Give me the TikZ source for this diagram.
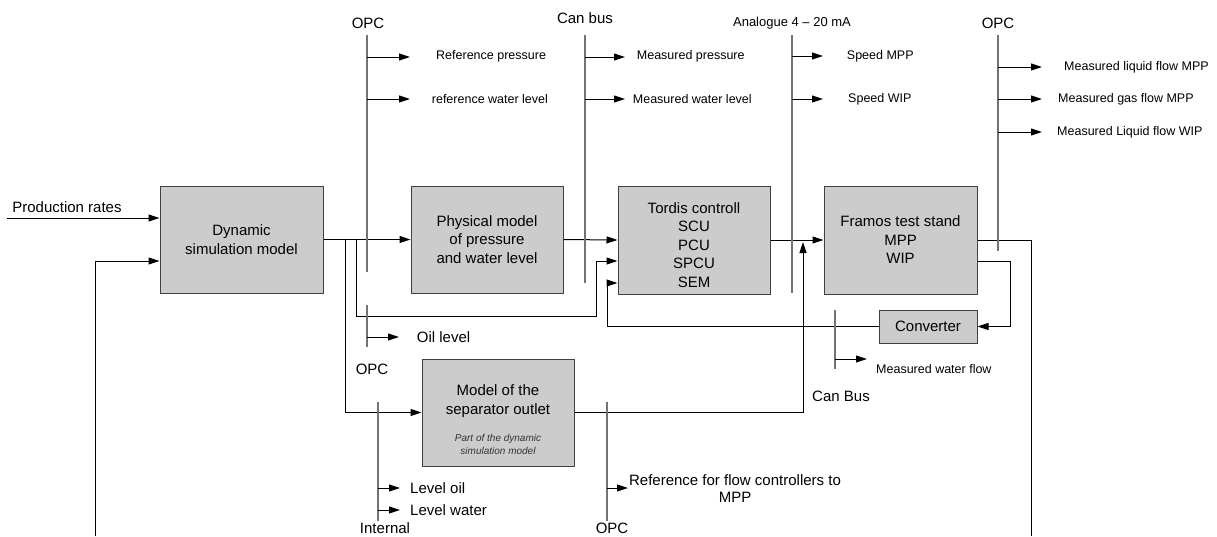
\documentclass[tikz,border=0pt]{standalone}
\usepackage{fontspec}
\setmainfont{Liberation Sans}
\usetikzlibrary{arrows.meta}
\tikzset{
 box/.style={draw=black!75, fill=black!20, line width=1pt, inner sep=0pt, align=center, font=\fontsize{15}{18.5}\selectfont},
 conn/.style={line width=1pt, draw=black},
 arr/.style={conn, -{Triangle[length=11pt,width=7pt]}},
 bus/.style={line width=1.1pt, draw=black!55},
 lbl/.style={inner sep=0pt, font=\fontsize{15}{18}\selectfont},
 slbl/.style={inner sep=0pt, font=\fontsize{12.5}{15}\selectfont},
}
\begin{document}
\begin{tikzpicture}[x=1pt,y=-1pt]
\fill[white] (0,0) rectangle (1217,536);
\useasboundingbox (0,0) rectangle (1217,536);

% boxes
\node[box, minimum width=163pt, minimum height=107pt] (dyn) at (241.5,239.5) {Dynamic\\simulation model};
\node[box, minimum width=152pt, minimum height=107pt] (phys) at (487,239.5) {Physical model\\of pressure\\and water level};
\node[box, minimum width=152pt, minimum height=108pt] (tor) at (694,240) {};
\node[lbl, align=center, font=\fontsize{15}{18.5}\selectfont] (tortxt) at (694,245) {Tordis controll\\SCU\\PCU\\SPCU\\SEM};
\node[box, minimum width=153pt, minimum height=108pt] (fr) at (900.5,240) {Framos test stand\\MPP\\WIP};
\node[box, minimum width=98pt, minimum height=33pt] (conv) at (928,326.5) {Converter};
\node[box, minimum width=152pt, minimum height=107pt] (sep) at (498,412.5) {};
\node[lbl, align=center, font=\fontsize{15}{19}\selectfont] (septxt) at (498,401.5) {Model of the\\separator outlet};
\node[inner sep=0pt, align=center, text=black!80, font=\fontsize{10}{13}\selectfont\itshape] (sepsub) at (498,444.5) {Part of the dynamic\\simulation model};

% production rates
\coordinate (prodin) at (7,218);
\draw[arr] (prodin) -- (prodin -| dyn.west);
\node[lbl] (prodlbl) at (67,207) {Production rates};

% feedback loop
\coordinate (fbR) at (1031,536);
\coordinate (fbL) at (95,536);
\coordinate (fbin) at (160,261);
\draw[conn] (fr.east) -| (fbR);
\draw[arr] (fbL) |- (dyn.west |- fbin);

% main flow
\draw[arr] (dyn.east) -- (phys.west);
\coordinate (b1) at (345.7,239.5);
\coordinate (b2) at (356,239.5);
\draw[arr] (b1) |- (sep.west);
\coordinate (loopA) at (356,316);
\coordinate (loopB) at (596,261);
\draw[arr] (b2) -- (loopA) -| (loopB) -- (tor.west |- loopB);
\draw[arr] (phys.east) -- (tor.west);
\draw[arr] (tor.east) -- (fr.west);
\coordinate (canupend) at (803,242);
\draw[arr] (sep.east) -| (canupend);
\coordinate (convloop) at (1010,261);
\draw[arr] (fr.east |- convloop) -- (convloop) |- (conv.east);
\coordinate (convback) at (607,283);
\draw[arr] (conv.west) -| (convback) -- (tor.west |- convback);

% OPC bus (left top)
\coordinate (opcA1) at (367,35);
\coordinate (opcA2) at (367,272);
\draw[bus] (opcA1) -- (opcA2);
\node[lbl] (opcAlbl) at (368,23) {OPC};
\coordinate (rp) at (410,57);
\coordinate (rwl) at (410,99);
\draw[arr] (opcA1 |- rp) -- (rp);
\draw[arr] (opcA1 |- rwl) -- (rwl);
\node[slbl, anchor=west] (rplbl) at (436,56) {Reference pressure};
\node[slbl, anchor=west] (rwllbl) at (431.7,99) {reference water level};

% Can bus
\coordinate (can1) at (585,35);
\coordinate (can2) at (585,283);
\draw[bus] (can1) -- (can2);
\node[lbl] (canlbl) at (585,18) {Can bus};
\coordinate (mp) at (625,57);
\coordinate (mwl) at (625,99);
\draw[arr] (can1 |- mp) -- (mp);
\draw[arr] (can1 |- mwl) -- (mwl);
\node[slbl, anchor=west] (mplbl) at (636.7,56) {Measured pressure};
\node[slbl, anchor=west] (mwllbl) at (632.7,99) {Measured water level};

% Analogue
\coordinate (an1) at (792,35);
\coordinate (an2) at (792,293);
\draw[bus] (an1) -- (an2);
\node[inner sep=0pt, font=\fontsize{13}{15}\selectfont] (anlbl) at (792,23) {Analogue 4 – 20 mA};
\coordinate (smpp) at (823,56);
\coordinate (swip) at (823,99);
\draw[arr] (an1 |- smpp) -- (smpp);
\draw[arr] (an1 |- swip) -- (swip);
\node[slbl, anchor=west] (smpplbl) at (846.7,56) {Speed MPP};
\node[slbl, anchor=west] (swiplbl) at (848,99) {Speed WIP};

% OPC right
\coordinate (opcB1) at (998,35);
\coordinate (opcB2) at (998,251);
\draw[bus] (opcB1) -- (opcB2);
\node[lbl] (opcBlbl) at (998,23) {OPC};
\coordinate (mlf) at (1042,67);
\coordinate (mgf) at (1042,99);
\coordinate (mlw) at (1042,132);
\draw[arr] (opcB1 |- mlf) -- (mlf);
\draw[arr] (opcB1 |- mgf) -- (mgf);
\draw[arr] (opcB1 |- mlw) -- (mlw);
\node[slbl, anchor=west] (mlflbl) at (1064,67) {Measured liquid flow MPP};
\node[slbl, anchor=west] (mgflbl) at (1058,99) {Measured gas flow MPP};
\node[slbl, anchor=west] (mlwlbl) at (1057,132) {Measured Liquid flow WIP};

% oil level tap
\coordinate (oil1) at (367,305);
\coordinate (oil2) at (367,347);
\draw[bus] (oil1) -- (oil2);
\coordinate (oilend) at (399,337);
\draw[arr] (oil1 |- oilend) -- (oilend);
\node[lbl, anchor=west] (oillbl) at (416.7,337) {Oil level};
\node[lbl] (opcClbl) at (372,369) {OPC};

% measured water flow tap
\coordinate (mw1) at (835,310);
\coordinate (mw2) at (835,369);
\draw[bus] (mw1) -- (mw2);
\coordinate (mwend) at (867,359);
\draw[arr] (mw1 |- mwend) -- (mwend);
\node[slbl, anchor=west] (mwlbl) at (876,369) {Measured water flow};
\node[lbl] (canBlbl) at (841,396) {Can Bus};

% internal
\coordinate (in1) at (378,402);
\coordinate (in2) at (378,521);
\draw[bus] (in1) -- (in2);
\coordinate (lo) at (400,488);
\coordinate (lw) at (400,510);
\draw[arr] (in1 |- lo) -- (lo);
\draw[arr] (in1 |- lw) -- (lw);
\node[lbl, anchor=west] (lolbl) at (410,488) {Level oil};
\node[lbl, anchor=west] (lwlbl) at (410,510) {Level water};
\node[lbl] (inlbl) at (385,528) {Internal};

% OPC bottom
\coordinate (opcD1) at (607,402);
\coordinate (opcD2) at (607,521);
\draw[bus] (opcD1) -- (opcD2);
\coordinate (rf) at (628,488);
\draw[arr] (opcD1 |- rf) -- (rf);
\node[lbl, align=center, font=\fontsize{15}{17}\selectfont] (rflbl) at (735,488.5) {Reference for flow controllers to\\MPP};
\node[lbl] (opcDlbl) at (612,528) {OPC};
\end{tikzpicture}
\end{document}
